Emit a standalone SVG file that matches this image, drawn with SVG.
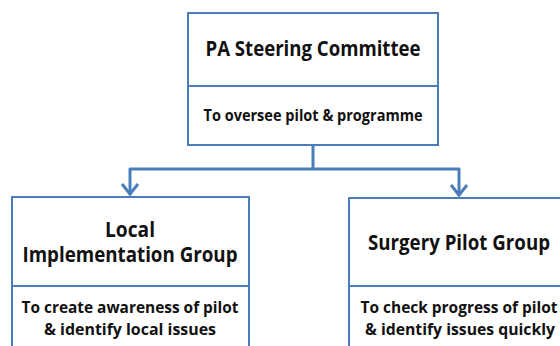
<svg xmlns="http://www.w3.org/2000/svg" width="560" height="346" viewBox="0 0 560 346">
<defs>
<style>
.box{fill:#fff;stroke:#4a7ebb;stroke-width:2}
.div{stroke:#4a7ebb;stroke-width:2}
.conn{fill:none;stroke:#4a7ebb;stroke-width:3;stroke-linejoin:round}
.t{font-family:"Open Sans","Liberation Sans",sans-serif;font-weight:bold;fill:#111;text-anchor:middle}
.h{font-size:20.5px}
.d{font-size:16px}
</style>
<marker id="arr" markerUnits="userSpaceOnUse" markerWidth="20" markerHeight="20" refX="10" refY="15" orient="auto" viewBox="0 0 20 20">
<polyline points="3,7 10,14 17,7" fill="none" stroke="#4a7ebb" stroke-width="3"/>
</marker>
</defs>
<rect width="560" height="346" fill="#fff"/>
<g id="connectors">
<polyline class="conn" points="313,146 313,169"/>
<polyline class="conn" points="130,195 130,169 459,169 459,196"/>
<path d="M122,184 L130,194 L138,184" fill="none" stroke="#4a7ebb" stroke-width="3"/>
<path d="M451,185 L459,195 L467,185" fill="none" stroke="#4a7ebb" stroke-width="3"/>
</g>
<g id="steering">
<rect class="box" x="188" y="13" width="250" height="132"/>
<line class="div" x1="188" y1="86" x2="438" y2="86"/>
<text class="t h" x="313" y="56" textLength="215" lengthAdjust="spacingAndGlyphs">PA Steering Committee</text>
<text class="t d" x="313" y="121" textLength="219" lengthAdjust="spacingAndGlyphs">To oversee pilot &amp; programme</text>
</g>
<g id="local">
<rect class="box" x="12" y="197" width="237" height="160"/>
<line class="div" x1="12" y1="286" x2="249" y2="286"/>
<text class="t h" x="130" y="237" textLength="50" lengthAdjust="spacingAndGlyphs">Local</text>
<text class="t h" x="130" y="262" textLength="215" lengthAdjust="spacingAndGlyphs">Implementation Group</text>
<text class="t d" x="130" y="313" textLength="217" lengthAdjust="spacingAndGlyphs">To create awareness of pilot</text>
<text class="t d" x="130" y="335" textLength="172" lengthAdjust="spacingAndGlyphs">&amp; identify local issues</text>
</g>
<g id="surgery">
<rect class="box" x="349" y="198" width="225" height="160"/>
<line class="div" x1="349" y1="286" x2="574" y2="286"/>
<text class="t h" x="459" y="250" textLength="182" lengthAdjust="spacingAndGlyphs">Surgery Pilot Group</text>
<text class="t d" x="459" y="313" textLength="197" lengthAdjust="spacingAndGlyphs">To check progress of pilot</text>
<text class="t d" x="460" y="335" textLength="190" lengthAdjust="spacingAndGlyphs">&amp; identify issues quickly</text>
</g>
</svg>
